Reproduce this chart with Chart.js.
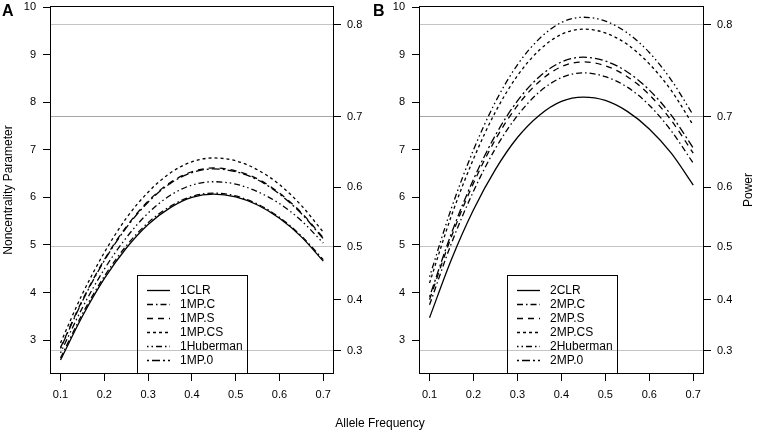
<!DOCTYPE html>
<html lang="en">
<head>
<meta charset="UTF-8" />
<title>Noncentrality parameter and power by allele frequency</title>
<script src="https://cdn.jsdelivr.net/npm/chart.js@4.4.0/dist/chart.umd.min.js"></script>
<style>
  body { margin: 0; background: #fff; font-family: "Liberation Sans", Arial, sans-serif; }
  #wrap { position: relative; width: 760px; height: 433px; }
  canvas { position: absolute; top: 0; }
  .lbl { position: absolute; color: #000; white-space: nowrap; }
</style>
</head>
<body>
<div id="wrap">
  <canvas id="chartA" width="380" height="433" style="left:0"></canvas>
  <canvas id="chartB" width="380" height="433" style="left:380px"></canvas>
  <div class="lbl" style="left:2px;top:2px;font-weight:bold;font-size:16px">A</div>
  <div class="lbl" style="left:373px;top:2px;font-weight:bold;font-size:16px">B</div>
  <div class="lbl" style="left:330px;top:416px;width:100px;text-align:center;font-size:12px">Allele Frequency</div>
  <div class="lbl" style="left:748px;top:190px;font-size:12px;transform:translate(-50%,-50%) rotate(-90deg)">Power</div>
</div>

<script>
// values (noncentrality parameter per allele frequency)
const freq = [0.1, 0.15, 0.2, 0.25, 0.3, 0.35, 0.4, 0.45, 0.5, 0.55, 0.6, 0.65, 0.7];

const namesA = ['1CLR', '1MP.C', '1MP.S', '1MP.CS', '1Huberman', '1MP.0'];
const clrA  = [2.58, 3.50, 4.29, 4.93, 5.43, 5.78, 6.00, 6.07, 6.01, 5.84, 5.56, 5.17, 4.66];
const mpcA  = [2.62, 3.55, 4.34, 4.98, 5.47, 5.81, 6.02, 6.09, 6.03, 5.86, 5.58, 5.19, 4.69];
const mpsA  = [2.84, 3.84, 4.69, 5.38, 5.92, 6.31, 6.54, 6.62, 6.56, 6.39, 6.09, 5.68, 5.15];
const mpcsA = [2.94, 3.97, 4.84, 5.56, 6.11, 6.51, 6.75, 6.83, 6.77, 6.58, 6.27, 5.83, 5.27];
const hubA  = [2.73, 3.68, 4.49, 5.15, 5.67, 6.04, 6.26, 6.33, 6.28, 6.12, 5.87, 5.51, 5.04];
const mp0A  = [2.82, 3.82, 4.67, 5.36, 5.90, 6.29, 6.52, 6.60, 6.54, 6.37, 6.07, 5.66, 5.13];

const namesB = ['2CLR', '2MP.C', '2MP.S', '2MP.CS', '2Huberman', '2MP.0'];
const clrB  = [3.47, 4.70, 5.74, 6.59, 7.26, 7.73, 8.02, 8.11, 8.04, 7.81, 7.44, 6.93, 6.26];
const mpcB  = [3.74, 5.04, 6.13, 7.03, 7.72, 8.22, 8.52, 8.62, 8.54, 8.32, 7.94, 7.40, 6.72];
const mpsB  = [3.85, 5.18, 6.30, 7.22, 7.93, 8.44, 8.75, 8.85, 8.77, 8.54, 8.16, 7.62, 6.93];
const mpcsB = [4.20, 5.62, 6.81, 7.80, 8.56, 9.10, 9.43, 9.54, 9.46, 9.22, 8.81, 8.25, 7.52];
const hubB  = [4.33, 5.78, 7.00, 8.01, 8.79, 9.34, 9.68, 9.79, 9.71, 9.46, 9.05, 8.47, 7.73];
const mp0B  = [3.91, 5.25, 6.38, 7.31, 8.03, 8.54, 8.85, 8.95, 8.87, 8.64, 8.26, 7.73, 7.04];

const xTicks = [0.1, 0.2, 0.3, 0.4, 0.5, 0.6, 0.7];
const yTicks = [3, 4, 5, 6, 7, 8, 9, 10];
// power axis: label and the noncentrality value it sits at
const powerLabels = ['0.3', '0.4', '0.5', '0.6', '0.7', '0.8'];
const powerNcp = [2.775, 3.842, 4.963, 6.213, 7.698, 9.628];
const powerGrid = ['0.3', '0.5', '0.7', '0.8'];

const FONT = '"Liberation Sans", Arial, sans-serif';
const dashes = [[], [6, 3, 1.5, 3], [6, 5], [3, 3], [1.5, 3, 1.5, 3, 6, 3], [2, 3, 8, 3]];
const gridGray = { '0.3': '#c4c4c4', '0.5': '#c4c4c4', '0.7': '#a6a6a6', '0.8': '#c4c4c4' };

const boxAndLegend = {
  id: 'boxAndLegend',
  afterDraw(chart, args, opts) {
    const { ctx, chartArea: a } = chart;
    ctx.save();
    ctx.strokeStyle = '#000';
    ctx.lineWidth = 1;
    ctx.setLineDash([]);
    ctx.strokeRect(Math.round(a.left) + 0.5, Math.round(a.top) + 0.5,
      Math.round(a.width) - 1, Math.round(a.height) - 1);

    // legend box sitting on the bottom axis
    const x0 = Math.round(a.left + opts.dx);
    const y0 = Math.round(a.bottom - 99);
    ctx.strokeRect(x0 + 0.5, y0 + 0.5, 110, Math.round(a.bottom) - y0 - 1);
    ctx.font = '12px ' + FONT;
    ctx.fillStyle = '#000';
    ctx.textBaseline = 'middle';
    chart.data.datasets.forEach((ds, i) => {
      const y = y0 + 15.5 + i * 14;
      ctx.setLineDash(ds.borderDash || []);
      ctx.lineWidth = 1.3;
      ctx.beginPath();
      ctx.moveTo(x0 + 10, y);
      ctx.lineTo(x0 + 33, y);
      ctx.stroke();
      ctx.fillText(ds.label, x0 + 43, y);
    });
    ctx.restore();
  }
};

function makePanel(id, names, series, o) {
  const datasets = names.map((name, i) => ({
    label: name,
    data: freq.map((f, j) => ({ x: f, y: series[i][j] })),
    borderColor: '#000',
    borderWidth: 1.3,
    borderDash: dashes[i],
    pointRadius: 0,
    fill: false,
    cubicInterpolationMode: 'monotone'
  }));

  const tickFont = { family: FONT, size: 11, lineHeight: 1 };
  // fixed box sizes so the plot frames land where the figure has them
  const fitVertical = w => s => { s.width = w; s.paddingTop = 6; s.paddingBottom = 0; };

  new Chart(document.getElementById(id), {
    type: 'line',
    data: { datasets },
    plugins: [boxAndLegend],
    options: {
      responsive: false,
      animation: false,
      layout: { padding: 0 },
      plugins: {
        legend: { display: false },
        tooltip: { enabled: false },
        boxAndLegend: { dx: o.legendDx }
      },
      scales: {
        x: {
          type: 'linear',
          position: 'bottom',
          min: 0.076,
          max: 0.7245,
          afterBuildTicks: s => { s.ticks = xTicks.map(v => ({ value: v })); },
          afterFit: s => { s.height = 59; },
          border: { display: false },
          grid: { drawOnChartArea: false, drawTicks: true, tickLength: 7, tickColor: '#000', color: '#000' },
          ticks: { font: tickFont, color: '#000', padding: 8, maxRotation: 0, autoSkip: false,
                   callback: v => String(v) }
        },
        y: {
          type: 'linear',
          position: 'left',
          min: 2.285,
          max: 10.027,
          afterBuildTicks: s => { s.ticks = yTicks.map(v => ({ value: v })); },
          afterFit: fitVertical(o.leftWidth),
          border: { display: false },
          grid: { drawOnChartArea: false, drawTicks: true, tickLength: 7, tickColor: '#000', color: '#000' },
          ticks: { font: tickFont, color: '#000', padding: 7, autoSkip: false, callback: v => String(v) },
          title: {
            display: o.leftTitle,
            text: 'Noncentrality Parameter',
            color: '#000',
            font: { family: FONT, size: 12 },
            padding: { top: 1, bottom: 0 }
          }
        },
        yp: {
          type: 'linear',
          position: 'right',
          min: 2.285,
          max: 10.027,
          afterBuildTicks: s => { s.ticks = powerNcp.map(v => ({ value: v })); },
          afterFit: fitVertical(o.rightWidth),
          border: { display: false },
          grid: {
            drawOnChartArea: true,
            drawTicks: true,
            tickLength: 7,
            tickColor: '#000',
            lineWidth: 1,
            color: ctx => gridGray[powerLabels[ctx.index]] || 'rgba(0,0,0,0)'
          },
          ticks: { font: tickFont, color: '#000', padding: 6, autoSkip: false,
                   callback: (v, i) => powerLabels[i] }
        }
      }
    }
  });
}

makePanel('chartA', namesA, [clrA, mpcA, mpsA, mpcsA, hubA, mp0A],
  { leftWidth: 50, rightWidth: 46, leftTitle: true, legendDx: 87 });
makePanel('chartB', namesB, [clrB, mpcB, mpsB, mpcsB, hubB, mp0B],
  { leftWidth: 39, rightWidth: 56, leftTitle: false, legendDx: 88 });
</script>
</body>
</html>
